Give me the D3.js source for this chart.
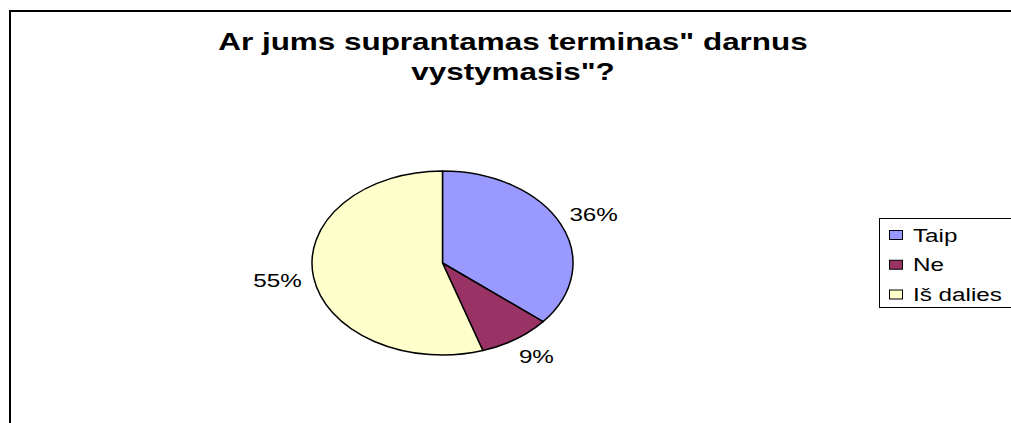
<!DOCTYPE html>
<html>
<head>
<meta charset="utf-8">
<script src="https://cdn.jsdelivr.net/npm/d3@7"></script>
<style>
  body { margin: 0; background: #fff; }
  text { font-family: "Liberation Sans", Arial, sans-serif; fill: #000; }
</style>
</head>
<body>
<svg id="chart"></svg>
<script>
// data
var categories = ["Taip", "Ne", "Iš dalies"];
var shares = [36, 9, 55];
var titleLines = ["Ar jums suprantamas terminas\" darnus", "vystymasis\"?"];

var width = 1011;
var height = 423;
var stretch = 1.31; // text in the original is widened horizontally

var color = d3.scaleOrdinal()
    .domain(categories)
    .range(["#9999ff", "#993366", "#ffffcc"]);

var svg = d3.select("#chart")
    .attr("width", width)
    .attr("height", height);

// chart frame (runs off the right and bottom edges)
svg.append("rect")
    .attr("x", 10)
    .attr("y", 11)
    .attr("width", 1040)
    .attr("height", 440)
    .attr("fill", "#fff")
    .attr("stroke", "#000")
    .attr("stroke-width", 2);

// title
svg.append("g")
    .selectAll("text")
    .data(titleLines)
    .enter()
    .append("text")
    .attr("transform", (d, i) => "translate(513," + (50 + i * 30) + ") scale(" + stretch + ",1)")
    .attr("text-anchor", "middle")
    .style("font-size", "24px")
    .style("font-weight", "bold")
    .text(d => d);

// pie (flattened into an ellipse)
var cx = 442.5, cy = 263, rx = 130.5, ry = 92;

var pie = d3.pie().sort(null).value(d => d.value);
var arcs = pie(categories.map((c, i) => ({name: c, value: shares[i]})));

var arc = d3.arc().innerRadius(0).outerRadius(rx);

svg.append("g")
    .attr("transform", "translate(" + cx + "," + cy + ") scale(1," + (ry / rx) + ")")
    .selectAll("path")
    .data(arcs)
    .enter()
    .append("path")
    .attr("d", arc)
    .attr("fill", d => color(d.data.name))
    .attr("stroke", "#000")
    .attr("stroke-width", 1.5)
    .attr("vector-effect", "non-scaling-stroke")
    .attr("stroke-linejoin", "round");

// percentage labels
svg.append("g")
    .selectAll("text")
    .data(arcs)
    .enter()
    .append("text")
    .attr("transform", function(d) {
        var a = (d.startAngle + d.endAngle) / 2;
        var x = cx + Math.sin(a) * rx * 1.28;
        var y = cy - Math.cos(a) * ry * 1.23;
        return "translate(" + x + "," + y + ") scale(" + stretch + ",1)";
    })
    .attr("text-anchor", "middle")
    .attr("dy", "0.36em")
    .style("font-size", "18.5px")
    .text(d => d.data.value + "%");

// legend
var legend = svg.append("g");
legend.append("rect")
    .attr("x", 879.5)
    .attr("y", 218.5)
    .attr("width", 160)
    .attr("height", 89)
    .attr("fill", "#fff")
    .attr("stroke", "#000")
    .attr("stroke-width", 1);

var ly = d3.scalePoint()
    .domain(categories)
    .range([235, 294.5]);

var items = legend.selectAll("g.item")
    .data(categories)
    .enter()
    .append("g")
    .classed("item", true);

items.append("rect")
    .attr("x", 889.5)
    .attr("y", d => ly(d) - 4.5)
    .attr("width", 13)
    .attr("height", 9)
    .attr("fill", d => color(d))
    .attr("stroke", "#000")
    .attr("stroke-width", 1);

items.append("text")
    .attr("transform", d => "translate(913," + ly(d) + ") scale(" + stretch + ",1)")
    .attr("dy", "0.36em")
    .style("font-size", "18.5px")
    .text(d => d);
</script>
</body>
</html>
